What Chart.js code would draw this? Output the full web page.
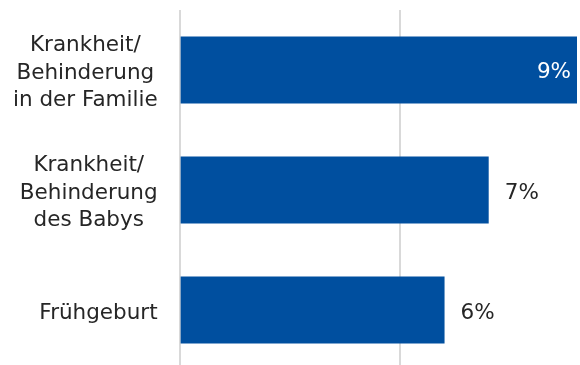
<!DOCTYPE html>
<html lang="de">
<head>
<meta charset="utf-8">
<script src="https://cdn.jsdelivr.net/npm/chart.js@4.4.1/dist/chart.umd.min.js"></script>
<style>
    html, body { margin: 0; padding: 0; background: #fff; overflow: hidden; }
    #wrap { position: relative; width: 580px; height: 370px; }
</style>
</head>
<body>
<div id="wrap"><canvas id="gruendeChart"></canvas></div>
<script>
// Gründe (mehrzeilige Beschriftungen) und Anteile in Prozent
const kategorien = [
    ['Krankheit/', 'Behinderung', 'in der Familie'],
    ['Krankheit/', 'Behinderung', 'des Babys'],
    ['Frühgeburt']
];
const anteile = [9, 7, 6];
const rasterWerte = [0, 5];

const BLAU = '#004f9f';
const TEXT = '#262626';
const SCHRIFT = "'DejaVu Sans', Verdana, sans-serif";
const GROESSE = 21.5;
const ZEILE = 27.3;
const ABSTAND = 22;

// Prozentwerte an die Balken schreiben: innen (weiß) beim längsten Balken, sonst rechts daneben
const wertBeschriftung = {
    id: 'wertBeschriftung',
    afterDatasetsDraw(chart) {
        const ctx = chart.ctx;
        const meta = chart.getDatasetMeta(0);
        const max = Math.max(...anteile);
        ctx.save();
        ctx.font = GROESSE + 'px ' + SCHRIFT;
        ctx.textBaseline = 'middle';
        meta.data.forEach((bar, i) => {
            const text = anteile[i] + '%';
            if (anteile[i] === max) {
                ctx.fillStyle = '#ffffff';
                ctx.textAlign = 'right';
                ctx.fillText(text, bar.x - 6, bar.y + 2);
            } else {
                ctx.fillStyle = TEXT;
                ctx.textAlign = 'left';
                ctx.fillText(text, bar.x + 16, bar.y + 3);
            }
        });
        ctx.restore();
    }
};

// Kategorien: Block rechtsbündig an der Achse, Zeilen innerhalb des Blocks zentriert
const kategorieBeschriftung = {
    id: 'kategorieBeschriftung',
    afterDraw(chart) {
        const ctx = chart.ctx;
        const y = chart.scales.y;
        const rechts = chart.chartArea.left - ABSTAND;
        ctx.save();
        ctx.font = GROESSE + 'px ' + SCHRIFT;
        ctx.fillStyle = TEXT;
        ctx.textAlign = 'center';
        ctx.textBaseline = 'middle';
        kategorien.forEach((zeilen, i) => {
            const breite = Math.max(...zeilen.map(z => ctx.measureText(z).width));
            const mitteX = rechts - breite / 2;
            const mitteY = y.getPixelForTick(i) + 3;
            const start = mitteY - (zeilen.length - 1) * ZEILE / 2;
            zeilen.forEach((z, j) => ctx.fillText(z, mitteX, start + j * ZEILE));
        });
        ctx.restore();
    }
};

// kein zusätzlicher Rand für überstehende Beschriftungen
function ohneRand(axis) {
    axis.paddingTop = 0;
    axis.paddingBottom = 0;
    axis.paddingLeft = 0;
    axis.paddingRight = 0;
}

new Chart(document.getElementById('gruendeChart'), {
    type: 'bar',
    data: {
        labels: kategorien,
        datasets: [{
            data: anteile,
            backgroundColor: BLAU,
            borderWidth: 0,
            barPercentage: 0.56,
            categoryPercentage: 1
        }]
    },
    options: {
        indexAxis: 'y',
        responsive: true,
        maintainAspectRatio: false,
        animation: false,
        layout: {
            padding: { top: 10, right: 3, bottom: 0, left: 13 }
        },
        plugins: {
            legend: { display: false },
            tooltip: { enabled: false }
        },
        scales: {
            x: {
                min: 0,
                max: 9,
                afterBuildTicks(axis) {
                    axis.ticks = rasterWerte.map(v => ({ value: v }));
                },
                afterFit: ohneRand,
                ticks: { display: false },
                border: { display: false },
                grid: {
                    color: '#d9d9d9',
                    lineWidth: 2,
                    drawTicks: false
                }
            },
            y: {
                afterFit(axis) {
                    ohneRand(axis);
                    // Abstand nur rechts der Beschriftung, nicht links
                    axis.width -= axis.options.ticks.padding;
                },
                border: { display: false },
                grid: { display: false, drawTicks: false },
                ticks: {
                    // Platz wird reserviert, gezeichnet wird im Plugin
                    color: 'rgba(0,0,0,0)',
                    padding: ABSTAND,
                    font: { family: SCHRIFT, size: GROESSE, lineHeight: ZEILE / GROESSE }
                }
            }
        }
    },
    plugins: [wertBeschriftung, kategorieBeschriftung]
});
</script>
</body>
</html>
